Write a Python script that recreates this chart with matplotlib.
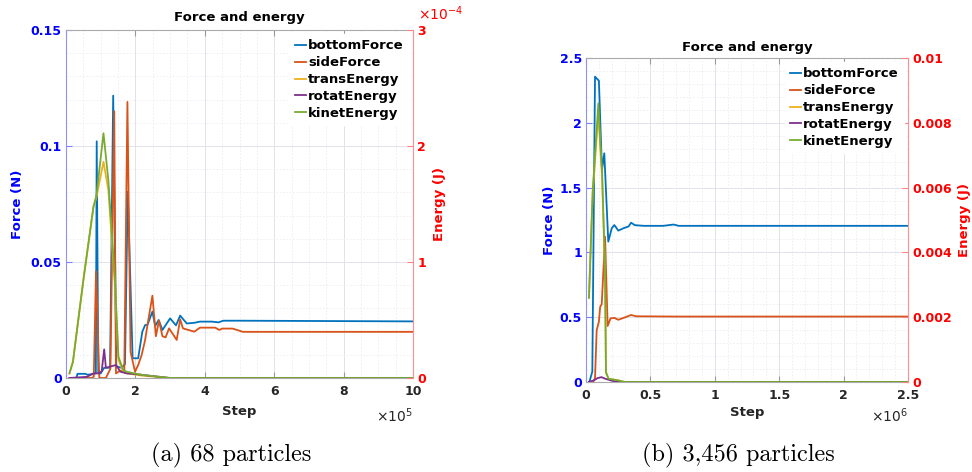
import numpy as np
import matplotlib.pyplot as plt
from matplotlib.ticker import MultipleLocator, FuncFormatter

# ---- (a) 68 particles ----
step_a_bottom = np.array([0.1, 0.3, 0.33, 0.56, 0.62, 0.8, 0.86, 0.885, 0.93, 1.0, 1.1, 1.27, 1.36, 1.45,
                          1.6, 1.7, 1.78, 1.92, 2.08, 2.2, 2.28, 2.35, 2.49, 2.57, 2.67, 2.78, 3.0, 3.17,
                          3.29, 3.48, 3.7, 3.86, 4.2, 4.4, 4.53, 5.0, 10.0]) * 1e5
bottom_a = [0, 0, 0.0018, 0.0018, 0.0014, 0.0018, 0.002, 0.102, 0.002, 0.002, 0.0044, 0.0044, 0.1217,
            0.005, 0.0044, 0.006, 0.0803, 0.0085, 0.0085, 0.02, 0.0228, 0.023, 0.0286, 0.0224, 0.025,
            0.0207, 0.0257, 0.0227, 0.0269, 0.0235, 0.0238, 0.0243, 0.0243, 0.024, 0.0247, 0.0247, 0.0244]

step_a_side = np.array([0.1, 0.74, 0.8, 0.865, 0.96, 1.15, 1.28, 1.39, 1.44, 1.55, 1.68, 1.77, 1.86, 1.99,
                        2.08, 2.18, 2.28, 2.35, 2.49, 2.59, 2.68, 2.78, 2.87, 2.97, 3.19, 3.29, 3.37, 3.62,
                        3.7, 3.86, 4.3, 4.42, 4.5, 4.8, 5.1, 10.0]) * 1e5
side_a = [0, 0, 0.0005, 0.046, 0, 0, 0.004, 0.115, 0.002, 0.003, 0.003, 0.119, 0.0113, 0.0027, 0.0056,
          0.0099, 0.0164, 0.023, 0.0355, 0.018, 0.0247, 0.018, 0.0175, 0.0214, 0.0164, 0.0253, 0.0214,
          0.0203, 0.02, 0.0217, 0.0217, 0.0207, 0.0213, 0.0213, 0.0199, 0.0199]

step_a_energy = np.array([0.1, 0.2, 0.5, 0.79, 0.88, 1.08, 1.22, 1.41, 1.51, 1.65, 1.75, 2.2, 3.0, 10.0]) * 1e5
trans_a = np.array([0.04, 0.14, 0.84, 1.47, 1.56, 1.864, 1.62, 0.80, 0.16, 0.05, 0.04, 0.02, 0, 0]) * 1e-4
kinet_a = np.array([0.04, 0.14, 0.844, 1.476, 1.578, 2.11, 1.706, 0.844, 0.184, 0.068, 0.054, 0.026, 0, 0]) * 1e-4

step_a_rotat = np.array([0.1, 0.6, 0.8, 0.95, 1.03, 1.1, 1.15, 1.29, 1.44, 1.57, 1.75, 2.0, 2.4, 3.0, 10.0]) * 1e5
rotat_a = np.array([0, 0.01, 0.04, 0.04, 0.06, 0.247, 0.088, 0.1, 0.112, 0.054, 0.04, 0.034, 0.02, 0, 0]) * 1e-4

# ---- (b) 3,456 particles ----
step_b_bottom = np.array([0.026, 0.049, 0.07, 0.085, 0.1, 0.124, 0.142, 0.173, 0.2, 0.22, 0.251, 0.29,
                          0.33, 0.35, 0.38, 0.45, 0.6, 0.68, 0.72, 2.5]) * 1e6
bottom_b = [0, 0.08, 2.356, 2.34, 2.325, 1.636, 1.765, 1.083, 1.186, 1.211, 1.168, 1.186, 1.20, 1.229,
            1.21, 1.205, 1.205, 1.215, 1.205, 1.205]

step_b_side = np.array([0.026, 0.056, 0.07, 0.083, 0.1, 0.11, 0.122, 0.148, 0.168, 0.19, 0.22, 0.25,
                        0.29, 0.35, 0.39, 0.7, 2.5]) * 1e6
side_b = [0, 0, 0.03, 0.40, 0.465, 0.58, 0.60, 1.121, 0.432, 0.49, 0.495, 0.48, 0.494, 0.517, 0.507,
          0.505, 0.505]

step_b_energy = np.array([0.023, 0.052, 0.096, 0.114, 0.125, 0.148, 0.155, 0.175, 0.25, 0.3, 2.5]) * 1e6
trans_b = [0.0026, 0.0058, 0.0083, 0.0070, 0.0063, 0.0033, 0.0003, 0.0001, 0.00005, 0, 0]
kinet_b = [0.0026, 0.0059, 0.0086, 0.0072, 0.0065, 0.0034, 0.0003, 0.0001, 0.00005, 0, 0]

step_b_rotat = np.array([0.023, 0.06, 0.09, 0.12, 0.15, 0.2, 0.25, 2.5]) * 1e6
rotat_b = [0, 0.00005, 0.00012, 0.00015, 0.0001, 0.00004, 0, 0]

labels = ['bottomForce', 'sideForce', 'transEnergy', 'rotatEnergy', 'kinetEnergy']
colors = ['#0072BD', '#D95319', '#EDB120', '#7E2F8E', '#77AC30']
captions = ['(a) 68 particles', '(b) 3,456 particles']

fig = plt.figure(figsize=(9.72, 4.72), dpi=100)

gfmt = FuncFormatter(lambda v, p: f'{v:g}')


def panel(rect, force, energy, xmax, xscale, xmaj, xmin, fmax, fmaj, fmin,
          emax, emaj, escale, pos):
    ax = fig.add_axes(rect)
    ax2 = ax.twinx()
    lines = []
    for (s, v), c, l in zip(force, colors[:2], labels[:2]):
        lines += ax.plot(s, v, color=c, lw=1.3, label=l)
    for (s, v), c, l in zip(energy, colors[2:], labels[2:]):
        lines += ax2.plot(s, v, color=c, lw=1.3, label=l)

    ax.set_xlim(0, xmax)
    ax.set_ylim(0, fmax)
    ax2.set_ylim(0, emax)
    ax.xaxis.set_major_locator(MultipleLocator(xmaj))
    ax.xaxis.set_minor_locator(MultipleLocator(xmin))
    ax.yaxis.set_major_locator(MultipleLocator(fmaj))
    ax.yaxis.set_minor_locator(MultipleLocator(fmin))
    ax2.yaxis.set_major_locator(MultipleLocator(emaj))
    ax.xaxis.set_major_formatter(FuncFormatter(lambda v, p: f'{v / xscale:g}'))
    ax.yaxis.set_major_formatter(gfmt)
    ax2.yaxis.set_major_formatter(FuncFormatter(lambda v, p: f'{v / escale:g}'))

    ax.grid(True, which='major', color='#e2e2ea', lw=0.7)
    ax.grid(True, which='minor', color='#ececf2', lw=0.6, ls=(0, (2, 2)))
    ax.set_axisbelow(True)

    ax.tick_params(axis='x', which='major', direction='in', length=4, top=True,
                   labelsize=9, labelcolor='#262626', color='#999999', pad=5)
    ax.tick_params(axis='y', which='major', direction='in', length=4, labelsize=9,
                   labelcolor='blue', color='#8080ff', pad=3)
    ax.tick_params(which='minor', length=0)
    ax2.tick_params(axis='y', which='major', direction='in', length=4, labelsize=9,
                    labelcolor='red', color='#ff8080', pad=3)
    for t in ax.get_xticklabels() + ax.get_yticklabels() + ax2.get_yticklabels():
        t.set_fontweight('bold')

    for sp in ['top', 'bottom']:
        ax.spines[sp].set_color('#aaaaaa')
    ax.spines['left'].set_color('#9090ff')
    ax2.spines['right'].set_color('#ff9090')
    for sp in ['top', 'bottom', 'left']:
        ax2.spines[sp].set_visible(False)
    ax.spines['right'].set_visible(False)

    ax.set_ylabel('Force (N)', color='blue', fontsize=9.5, fontweight='bold')
    ax2.set_ylabel('Energy (J)', color='red', fontsize=9.5, fontweight='bold')
    ax.set_xlabel('Step', color='#262626', fontsize=9.5, fontweight='bold')
    ax.yaxis.set_label_coords(pos['fl'], 0.5)
    ax2.yaxis.set_label_coords(pos['el'], 0.5)
    ax.xaxis.set_label_coords(0.5, pos['xl'])
    ax.text(1.0, pos['xo'], r'$\times\mathregular{10^{%d}}$' % int(np.log10(xscale)),
            transform=ax.transAxes, ha='right', va='center', fontsize=10, color='#262626')
    ax.text(0.5, pos['ti'], 'Force and energy', transform=ax.transAxes, ha='center',
            va='center', fontsize=9.5, fontweight='bold')

    leg = ax2.legend(lines, labels, loc='upper right', fontsize=9.5, handlelength=0.8,
                     handletextpad=0.2, labelspacing=0.3, borderaxespad=0.3,
                     frameon=True, fancybox=False, edgecolor='white', framealpha=1)
    for t in leg.get_texts():
        t.set_fontweight('bold')
    return ax, ax2


ax_a, ax2_a = panel([66 / 972, 1 - 378 / 472, 347 / 972, 348 / 472],
                    [(step_a_bottom, bottom_a), (step_a_side, side_a)],
                    [(step_a_energy, trans_a), (step_a_rotat, rotat_a), (step_a_energy, kinet_a)],
                    10e5, 1e5, 2e5, 0.5e5, 0.15, 0.05, 0.01, 3e-4, 1e-4, 1e-4,
                    dict(fl=-0.121, el=1.058, xl=-0.078, xo=-0.108, ti=1.037))
ax_a.text(1.014, 1.047, r'$\times\mathregular{10^{-4}}$', transform=ax_a.transAxes,
          ha='left', va='center', fontsize=10, color='red')

ax_b, ax2_b = panel([586 / 972, 1 - 382 / 472, 322 / 972, 324 / 472],
                    [(step_b_bottom, bottom_b), (step_b_side, side_b)],
                    [(step_b_energy, trans_b), (step_b_rotat, rotat_b), (step_b_energy, kinet_b)],
                    2.5e6, 1e6, 0.5e6, 0.1e6, 2.5, 0.5, 0.1, 0.01, 0.002, 1,
                    dict(fl=-0.093, el=1.155, xl=-0.074, xo=-0.105, ti=1.033))

fig.text(231 / 972, 1 - 455 / 472, captions[0], ha='center', va='center',
         fontsize=17.5, family='cmr10')
fig.text(738 / 972, 1 - 455 / 472, captions[1], ha='center', va='center',
         fontsize=17.5, family='cmr10')

fig.savefig('out.png', dpi=100)
